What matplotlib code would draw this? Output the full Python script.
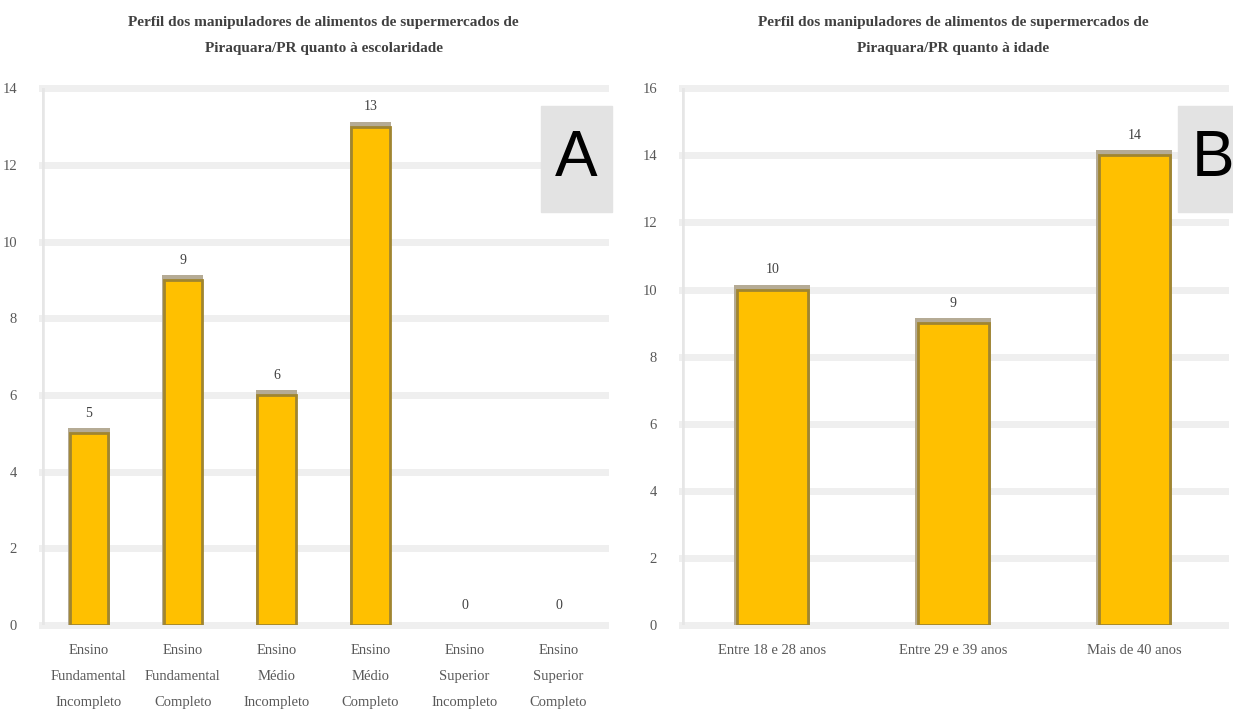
import numpy as np
import matplotlib
matplotlib.use('Agg')
from matplotlib import pyplot as plt
from matplotlib.patches import Rectangle

# dados do painel A (escolaridade)
cat_a = ['Ensino\nFundamental\nIncompleto', 'Ensino\nFundamental\nCompleto',
         'Ensino\nMédio\nIncompleto', 'Ensino\nMédio\nCompleto',
         'Ensino\nSuperior\nIncompleto', 'Ensino\nSuperior\nCompleto']
val_a = [5, 9, 6, 13, 0, 0]
titulo_a = 'Perfil dos manipuladores de alimentos de supermercados de\nPiraquara/PR quanto à escolaridade'

# dados do painel B (idade)
cat_b = ['Entre 18 e 28 anos', 'Entre 29 e 39 anos', 'Mais de 40 anos']
val_b = [10, 9, 14]
titulo_b = 'Perfil dos manipuladores de alimentos de supermercados de\nPiraquara/PR quanto à idade'

plt.rcParams['font.family'] = ['Liberation Serif', 'DejaVu Serif']

fig = plt.figure(figsize=(12.33, 7.18), dpi=100)

def painel(pos, cats, vals, ymax, titulo, letra, box_x, width):
    ax = fig.add_axes(pos)
    x = np.arange(len(cats))
    ax.set_xlim(-0.5, len(cats) - 0.5)
    ax.set_ylim(0, ymax)
    ax.set_yticks(np.arange(0, ymax + 1, 2))
    for yy in np.arange(0, ymax + 1, 2):
        ax.axhline(yy, color='#efefef', lw=5, zorder=0, clip_on=False)
    ax.axvline(-0.5, color='#e6e6e6', lw=4, zorder=0)
    for s in ax.spines.values():
        s.set_visible(False)
    # sombra no topo das barras
    sombra = ymax * 5 / 537
    ax.bar(x, [v + sombra if v > 0 else 0 for v in vals], width=width + 0.03,
           color='#b5ab95', zorder=2)
    ax.bar(x, vals, width=width, color='#FFC000', edgecolor='#a08530',
           linewidth=[2 if v > 0 else 0 for v in vals], zorder=3)
    off = ymax * 20 / 537
    for xi, v in zip(x, vals):
        ax.text(xi, v + off, str(v), ha='center', va='center', fontsize=10,
                color='#404040', zorder=4)
    ax.set_xticks(x)
    ax.set_xticklabels(cats, fontsize=10.5, color='#595959', linespacing=2.3)
    ax.tick_params(axis='both', length=0, labelsize=10.5, colors='#595959')
    ax.tick_params(axis='x', pad=14)
    ax.tick_params(axis='y', pad=18)
    ax.set_title(titulo, fontsize=11, color='#404040', pad=26, fontweight='bold',
                 linespacing=2.35)
    fig.patches.append(Rectangle((box_x, 0.705), 0.057, 0.148,
                                 transform=fig.transFigure, color='#e3e3e3',
                                 zorder=5))
    fig.text(box_x + 0.0285, 0.778, letra, ha='center', va='center', fontsize=46,
             family='Liberation Sans', color='black', zorder=6)
    return ax

painel([0.034, 0.1295, 0.457, 0.7475], cat_a, val_a, 14, titulo_a, 'A', 0.439, 0.41)
painel([0.553, 0.1295, 0.4405, 0.7475], cat_b, val_b, 16, titulo_b, 'B', 0.955, 0.39)

plt.savefig('out.png', dpi=100)
plt.close()
